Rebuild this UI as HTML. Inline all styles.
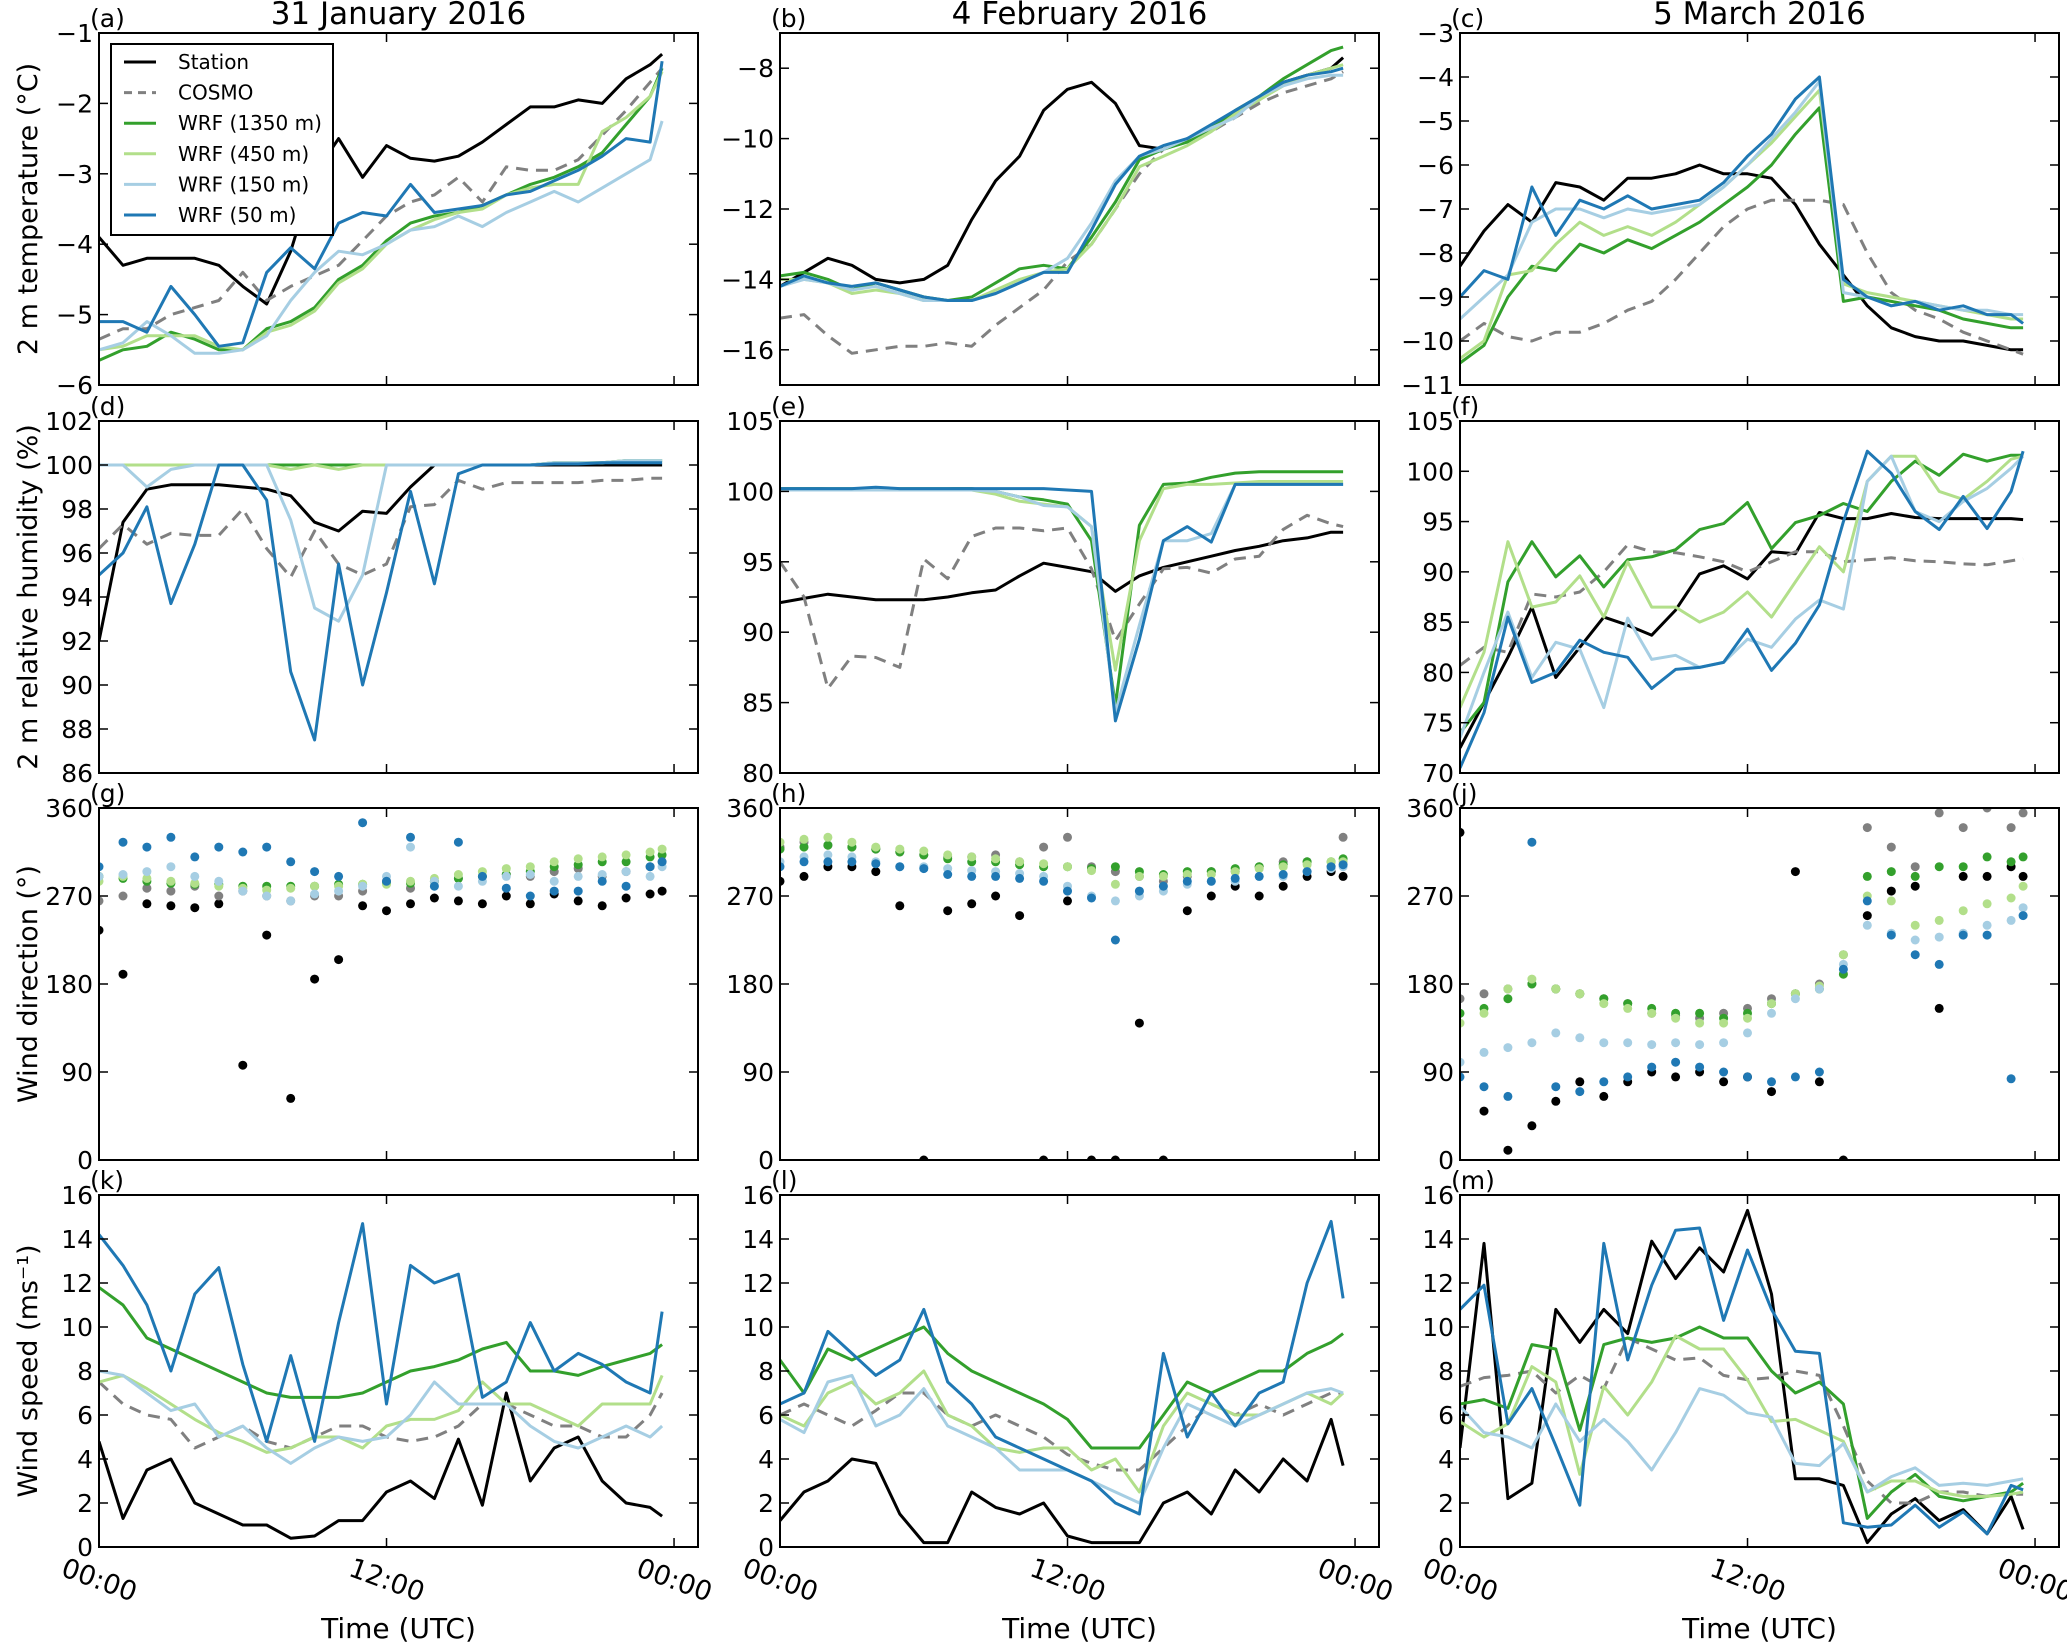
<!DOCTYPE html>
<html><head><meta charset="utf-8"><title>Station vs model comparison</title>
<style>
html,body{margin:0;padding:0;background:#fff;}
svg{display:block;font-family:"DejaVu Sans","Liberation Sans",sans-serif;}
</style></head>
<body>
<svg id="chart" width="2067" height="1642" viewBox="0 0 2067 1642" xmlns="http://www.w3.org/2000/svg"></svg>
<script>
// ---------- data ----------
const HOURS=[0,1,2,3,4,5,6,7,8,9,10,11,12,13,14,15,16,17,18,19,20,21,22,23,23.5];
const seriesNames=["Station","COSMO","WRF (1350 m)","WRF (450 m)","WRF (150 m)","WRF (50 m)"];
const dayTitles=["31 January 2016","4 February 2016","5 March 2016"];
const xTickHours=[0,12,24];
const xTickLabels=["00:00","12:00","00:00"];

// (a) temperature 31 Jan
const tA_station=[-3.9,-4.3,-4.2,-4.2,-4.2,-4.3,-4.6,-4.85,-4.1,-3.0,-2.5,-3.05,-2.6,-2.78,-2.82,-2.75,-2.55,-2.3,-2.05,-2.05,-1.95,-2.0,-1.65,-1.45,-1.3];
const tA_cosmo=[-5.35,-5.2,-5.2,-5.0,-4.9,-4.8,-4.4,-4.8,-4.6,-4.45,-4.3,-3.95,-3.6,-3.4,-3.3,-3.05,-3.4,-2.9,-2.95,-2.95,-2.8,-2.45,-2.1,-1.7,-1.5];
const tA_w1350=[-5.65,-5.5,-5.45,-5.25,-5.35,-5.5,-5.5,-5.2,-5.1,-4.9,-4.5,-4.3,-3.95,-3.7,-3.6,-3.55,-3.45,-3.3,-3.15,-3.05,-2.9,-2.7,-2.3,-1.9,-1.5];
const tA_w450=[-5.5,-5.45,-5.3,-5.3,-5.3,-5.45,-5.5,-5.25,-5.15,-4.95,-4.55,-4.35,-4.0,-3.8,-3.65,-3.55,-3.5,-3.3,-3.2,-3.15,-3.15,-2.4,-2.2,-1.9,-1.55];
const tA_w150=[-5.5,-5.4,-5.1,-5.3,-5.55,-5.55,-5.5,-5.3,-4.8,-4.4,-4.1,-4.15,-4.0,-3.8,-3.75,-3.6,-3.75,-3.55,-3.4,-3.25,-3.4,-3.2,-3.0,-2.8,-2.25];
const tA_w50=[-5.1,-5.1,-5.25,-4.6,-5.0,-5.45,-5.4,-4.4,-4.05,-4.35,-3.7,-3.55,-3.6,-3.15,-3.55,-3.5,-3.45,-3.3,-3.25,-3.1,-2.95,-2.75,-2.5,-2.55,-1.4];
// (b) temperature 4 Feb
const tB_station=[-14.2,-13.8,-13.4,-13.6,-14.0,-14.1,-14.0,-13.6,-12.3,-11.2,-10.5,-9.2,-8.6,-8.4,-9.0,-10.2,-10.3,-10.0,-9.7,-9.3,-8.9,-8.4,-8.2,-8.0,-7.7];
const tB_cosmo=[-15.1,-15.0,-15.6,-16.1,-16.0,-15.9,-15.9,-15.8,-15.9,-15.3,-14.8,-14.3,-13.5,-13.0,-12.0,-11.0,-10.3,-10.0,-9.8,-9.4,-9.0,-8.7,-8.5,-8.3,-8.1];
const tB_w1350=[-13.9,-13.8,-14.0,-14.3,-14.1,-14.3,-14.5,-14.6,-14.5,-14.1,-13.7,-13.6,-13.7,-12.8,-11.8,-10.6,-10.3,-10.1,-9.7,-9.2,-8.8,-8.3,-7.9,-7.5,-7.4];
const tB_w450=[-14.0,-14.0,-14.1,-14.4,-14.3,-14.4,-14.6,-14.6,-14.6,-14.3,-14.0,-13.8,-13.7,-13.0,-12.0,-10.8,-10.5,-10.2,-9.8,-9.3,-8.9,-8.5,-8.2,-8.0,-7.9];
const tB_w150=[-14.2,-14.0,-14.1,-14.3,-14.2,-14.4,-14.6,-14.6,-14.6,-14.4,-14.1,-13.8,-13.4,-12.4,-11.2,-10.5,-10.3,-10.0,-9.7,-9.4,-8.8,-8.5,-8.3,-8.2,-8.2];
const tB_w50=[-14.2,-13.9,-14.1,-14.2,-14.1,-14.3,-14.5,-14.6,-14.6,-14.4,-14.1,-13.8,-13.8,-12.6,-11.3,-10.5,-10.2,-10.0,-9.6,-9.2,-8.8,-8.4,-8.2,-8.1,-8.0];
// (c) temperature 5 Mar
const tC_station=[-8.3,-7.5,-6.9,-7.3,-6.4,-6.5,-6.8,-6.3,-6.3,-6.2,-6.0,-6.2,-6.2,-6.3,-6.9,-7.8,-8.5,-9.2,-9.7,-9.9,-10.0,-10.0,-10.1,-10.2,-10.2];
const tC_cosmo=[-10.0,-9.6,-9.9,-10.0,-9.8,-9.8,-9.6,-9.3,-9.1,-8.6,-8.0,-7.4,-7.0,-6.8,-6.8,-6.8,-6.9,-8.0,-8.9,-9.3,-9.5,-9.8,-10.0,-10.2,-10.3];
const tC_w1350=[-10.5,-10.1,-9.0,-8.3,-8.4,-7.8,-8.0,-7.7,-7.9,-7.6,-7.3,-6.9,-6.5,-6.0,-5.3,-4.7,-9.1,-9.0,-9.1,-9.2,-9.3,-9.5,-9.6,-9.7,-9.7];
const tC_w450=[-10.4,-10.0,-8.5,-8.4,-7.8,-7.3,-7.6,-7.4,-7.6,-7.3,-6.9,-6.5,-6.0,-5.5,-4.9,-4.3,-8.7,-8.9,-9.0,-9.1,-9.2,-9.3,-9.4,-9.5,-9.5];
const tC_w150=[-9.5,-9.0,-8.5,-7.3,-7.0,-7.0,-7.2,-7.0,-7.1,-7.0,-6.9,-6.5,-6.0,-5.4,-4.8,-4.1,-8.9,-9.0,-9.2,-9.1,-9.2,-9.3,-9.3,-9.4,-9.4];
const tC_w50=[-9.0,-8.4,-8.6,-6.5,-7.6,-6.8,-7.0,-6.7,-7.0,-6.9,-6.8,-6.4,-5.8,-5.3,-4.5,-4.0,-8.6,-9.0,-9.2,-9.1,-9.3,-9.2,-9.4,-9.4,-9.6];
// (d) RH 31 Jan
const rD_station=[92,97.4,98.9,99.1,99.1,99.1,99.0,98.9,98.6,97.4,97.0,97.9,97.8,99.0,100,100,100,100,100,100,100,100,100,100,100];
const rD_cosmo=[96.2,97.3,96.4,96.9,96.8,96.8,98.0,96.2,94.9,97.0,95.5,95.0,95.5,98.1,98.2,99.3,98.9,99.2,99.2,99.2,99.2,99.3,99.3,99.4,99.4];
const rD_w1350=[100,100,100,100,100,100,100,100,100,100,100,100,100,100,100,100,100,100,100,100.1,100.1,100.1,100.2,100.2,100.2];
const rD_w450=[100,100,100,100,100,100,100,100,99.8,100,99.8,100,100,100,100,100,100,100,100,100.1,100.1,100.1,100.2,100.2,100.2];
const rD_w150=[100,100,99.0,99.8,100,100,100,100,97.5,93.5,92.9,95.0,100,100,100,100,100,100,100,100.1,100.1,100.1,100.2,100.2,100.2];
const rD_w50=[95,96,98.1,93.7,96.4,100,100,98.4,90.6,87.5,95.5,90.0,94.2,98.8,94.6,99.6,100,100,100,100.05,100.05,100.1,100.1,100.1,100.1];
// (e) RH 4 Feb
const rE_station=[92.1,92.4,92.7,92.5,92.3,92.3,92.3,92.5,92.8,93.0,94.0,94.9,94.6,94.3,92.9,94.0,94.6,95.0,95.4,95.8,96.1,96.5,96.7,97.1,97.1];
const rE_cosmo=[95,92.5,86.0,88.3,88.2,87.5,95.2,93.8,96.8,97.4,97.4,97.2,97.4,94.5,89.4,92.0,94.5,94.6,94.2,95.2,95.4,97.3,98.3,97.7,97.5];
const rE_w1350=[100.2,100.2,100.2,100.2,100.2,100.2,100.2,100.2,100.2,100.0,99.6,99.4,99.1,96.5,84.8,97.6,100.5,100.6,101.0,101.3,101.4,101.4,101.4,101.4,101.4];
const rE_w450=[100.1,100.1,100.2,100.2,100.2,100.2,100.2,100.2,100.1,99.8,99.3,99.1,98.9,97.5,87.3,96.5,100.2,100.5,100.5,100.6,100.7,100.7,100.7,100.7,100.7];
const rE_w150=[100.1,100.1,100.1,100.1,100.1,100.1,100.1,100.1,100.1,100.0,99.6,99.0,98.9,97.5,84.3,90.5,96.5,96.5,97.0,100.5,100.5,100.5,100.5,100.5,100.5];
const rE_w50=[100.2,100.2,100.2,100.2,100.3,100.2,100.2,100.2,100.2,100.2,100.2,100.2,100.1,100.0,83.7,89.5,96.5,97.5,96.4,100.5,100.5,100.5,100.5,100.5,100.5];
// (f) RH 5 Mar
const rF_station=[72.5,77,81.5,86.5,79.5,82.5,85.5,84.7,83.7,86.2,89.8,90.6,89.3,92,91.8,95.9,95.3,95.3,95.8,95.4,95.3,95.3,95.3,95.3,95.2];
const rF_cosmo=[80.7,82.5,82,87.8,87.5,88,90,92.7,92,91.9,91.5,91,90,91,92,92,91,91.2,91.4,91.1,91.0,90.8,90.7,91.1,91.3];
const rF_w1350=[74,77,89,93,89.5,91.6,88.5,91.2,91.5,92.2,94.2,94.8,96.9,92.3,94.9,95.6,96.8,96,99,101,99.6,101.7,101,101.6,101.6];
const rF_w450=[76.5,82,93,86.5,87,89.6,85.5,91,86.5,86.5,85,86,88,85.5,89,92.5,90,99,101.5,101.5,98,97.2,99,101.2,101.5];
const rF_w150=[73.5,80,86,79.5,83,82.3,76.5,85.4,81.3,81.7,80.5,81,83.3,82.5,85.3,87.2,86.3,99,101.5,96,95,97,98.3,100.3,101.5];
const rF_w50=[70.5,76,85.5,79,80,83.2,82,81.5,78.4,80.3,80.5,81,84.3,80.2,82.9,86.7,95,102,99.8,96,94.2,97.5,94.3,98,102];
// (g) wind direction 31 Jan
const dG_station=[235,190,262,260,258,262,97,230,63,185,205,260,255,262,268,265,262,270,262,272,265,260,268,272,275];
const dG_cosmo=[265,270,278,275,280,270,275,270,265,270,270,275,285,278,285,288,290,292,290,295,298,290,295,300,305];
const dG_w1350=[290,288,285,283,282,282,280,280,280,280,282,282,283,283,285,288,290,292,295,300,302,305,305,310,312];
const dG_w450=[285,290,288,285,283,280,278,276,278,280,280,282,282,285,288,292,295,298,300,305,308,310,312,315,318];
const dG_w150=[290,292,295,300,290,285,275,270,265,272,275,280,290,320,285,280,285,290,292,285,290,292,295,290,300];
const dG_w50=[300,325,320,330,310,320,315,320,305,295,290,345,285,330,280,325,290,278,270,275,275,285,280,300,305];
// (h) wind direction 4 Feb
const dH_station=[285,290,300,300,295,260,0,255,262,270,250,0,265,0,0,140,0,255,270,280,270,280,290,295,290];
const dH_cosmo=[320,325,322,320,318,315,312,310,310,312,305,320,330,300,295,290,285,290,295,295,300,305,305,300,330];
const dH_w1350=[318,320,322,320,318,315,312,308,305,305,302,300,300,298,300,295,292,295,295,298,300,302,305,305,308];
const dH_w450=[325,328,330,325,320,318,316,312,310,308,305,303,300,296,282,290,290,292,292,295,298,300,302,305,305];
const dH_w150=[305,310,312,310,305,300,300,298,296,295,293,290,280,270,265,270,275,282,285,285,290,290,295,298,300];
const dH_w50=[300,305,305,305,303,300,298,292,290,290,288,285,275,268,225,275,280,285,285,288,290,292,295,300,302];
// (j) wind direction 5 Mar
const dJ_station=[335,50,10,35,60,80,65,80,90,85,90,80,85,70,295,80,0,250,275,280,155,290,290,300,290];
const dJ_cosmo=[165,170,175,180,175,170,165,160,150,148,145,150,155,165,170,180,210,340,320,300,355,340,360,340,355];
const dJ_w1350=[150,155,165,180,175,170,165,160,155,150,150,145,150,160,170,175,190,290,295,290,300,300,310,305,310];
const dJ_w450=[140,150,175,185,175,170,160,155,150,145,140,140,145,160,170,178,210,270,265,240,245,255,262,268,280];
const dJ_w150=[100,110,115,120,130,125,120,120,118,120,118,120,130,150,165,175,200,240,232,225,228,232,240,245,258];
const dJ_w50=[85,75,65,325,75,70,80,85,95,100,95,90,85,80,85,90,195,265,230,210,200,230,230,83,250];
// (k) wind speed 31 Jan
const sK_station=[4.8,1.3,3.5,4.0,2.0,1.5,1.0,1.0,0.4,0.5,1.2,1.2,2.5,3.0,2.2,4.9,1.9,7.0,3.0,4.5,5.0,3.0,2.0,1.8,1.4];
const sK_cosmo=[7.5,6.5,6.0,5.8,4.5,5.0,5.5,4.8,4.5,5.0,5.5,5.5,5.0,4.8,5.0,5.5,6.5,6.5,6.0,5.5,5.5,5.0,5.0,6.0,7.0];
const sK_w1350=[11.8,11.0,9.5,9.0,8.5,8.0,7.5,7.0,6.8,6.8,6.8,7.0,7.5,8.0,8.2,8.5,9.0,9.3,8.0,8.0,7.8,8.2,8.5,8.8,9.2];
const sK_w450=[7.5,7.8,7.2,6.5,5.8,5.2,4.8,4.3,4.5,5.0,5.0,4.5,5.5,5.8,5.8,6.2,7.5,6.5,6.5,6.0,5.5,6.5,6.5,6.5,7.8];
const sK_w150=[8.0,7.8,7.0,6.2,6.5,5.0,5.5,4.5,3.8,4.5,5.0,4.8,5.0,6.0,7.5,6.5,6.5,6.5,5.5,4.8,4.5,5.0,5.5,5.0,5.5];
const sK_w50=[14.2,12.8,11.0,8.0,11.5,12.7,8.3,4.8,8.7,4.8,10.2,14.7,6.5,12.8,12.0,12.4,6.8,7.5,10.2,8.0,8.8,8.3,7.5,7.0,10.7];
// (l) wind speed 4 Feb
const sL_station=[1.2,2.5,3.0,4.0,3.8,1.5,0.2,0.2,2.5,1.8,1.5,2.0,0.5,0.2,0.2,0.2,2.0,2.5,1.5,3.5,2.5,4.0,3.0,5.8,3.7];
const sL_cosmo=[6.0,6.5,6.0,5.5,6.2,7.0,7.0,6.0,5.5,6.0,5.5,5.0,4.2,3.8,3.5,3.5,4.5,5.5,6.5,6.0,6.5,6.0,6.5,7.0,7.0];
const sL_w1350=[8.5,7.0,9.0,8.5,9.0,9.5,10.0,8.8,8.0,7.5,7.0,6.5,5.8,4.5,4.5,4.5,6.0,7.5,7.0,7.5,8.0,8.0,8.8,9.3,9.7];
const sL_w450=[6.0,5.5,7.0,7.5,6.5,7.0,8.0,6.0,5.5,4.5,4.3,4.5,4.5,3.5,4.0,2.5,5.5,7.0,6.5,6.0,6.0,6.5,7.0,6.5,7.0];
const sL_w150=[5.8,5.2,7.5,7.8,5.5,6.0,7.2,5.5,5.0,4.5,3.5,3.5,3.5,3.0,2.5,2.0,4.5,6.5,6.0,5.5,6.0,6.5,7.0,7.2,7.0];
const sL_w50=[6.5,7.0,9.8,8.8,7.8,8.5,10.8,7.5,6.5,5.0,4.5,4.0,3.5,3.0,2.0,1.5,8.8,5.0,7.0,5.5,7.0,7.5,12.0,14.8,11.3];
// (m) wind speed 5 Mar
const sM_station=[4.5,13.8,2.2,2.9,10.8,9.3,10.8,9.7,13.9,12.2,13.6,12.5,15.3,11.5,3.1,3.1,2.8,0.2,1.5,2.2,1.2,1.7,0.6,2.3,0.8];
const sM_cosmo=[7.3,7.7,7.8,8.0,7.0,7.8,7.2,9.5,9.0,8.5,8.6,7.8,7.6,7.7,8.0,7.8,5.5,3.0,2.0,2.0,2.5,2.5,2.3,2.4,2.4];
const sM_w1350=[6.5,6.7,6.3,9.2,9.0,5.3,9.2,9.5,9.3,9.5,10.0,9.5,9.5,8.0,7.0,7.5,6.5,1.3,2.5,3.3,2.3,2.1,2.3,2.5,2.9];
const sM_w450=[5.7,5.0,5.6,8.2,7.5,3.3,7.3,6.0,7.5,9.6,9.0,9.0,7.6,5.7,5.8,5.3,4.8,2.5,3.0,3.0,2.5,2.3,2.3,2.4,2.5];
const sM_w150=[6.4,5.2,5.0,4.5,6.5,4.8,5.8,4.8,3.5,5.2,7.2,6.9,6.1,5.9,3.8,3.7,4.7,2.5,3.2,3.6,2.8,2.9,2.8,3.0,3.1];
const sM_w50=[10.8,11.9,5.6,7.2,4.6,1.9,13.8,8.5,11.9,14.4,14.5,10.3,13.5,10.8,8.9,8.8,1.1,0.9,1.0,1.9,0.9,1.6,0.6,2.8,2.6];

// y tick values
const ticksA=[-6,-5,-4,-3,-2,-1], ticksB=[-16,-14,-12,-10,-8], ticksC=[-11,-10,-9,-8,-7,-6,-5,-4,-3];
const ticksD=[86,88,90,92,94,96,98,100,102], ticksEF=[70,75,80,85,90,95,100,105], ticksE=[80,85,90,95,100,105];
const ticksDir=[0,90,180,270,360], ticksSpd=[0,2,4,6,8,10,12,14,16];

// ---------- layout (not data) ----------
const COLX=[99,780,1460], PW=599, ROWY=[33,421,808,1195], PH=352, XMAX=25;
const COLORS=["#000000","#808080","#33a02c","#b2df8a","#a6cee3","#1f78b4"];
const SLUGS=["station","cosmo","wrf-1350m","wrf-450m","wrf-150m","wrf-50m"];

const panels=[
 {id:"a",col:0,row:0,ymin:-6,ymax:-1,ticks:ticksA,type:"line",data:[tA_station,tA_cosmo,tA_w1350,tA_w450,tA_w150,tA_w50]},
 {id:"b",col:1,row:0,ymin:-17,ymax:-7,ticks:ticksB,type:"line",data:[tB_station,tB_cosmo,tB_w1350,tB_w450,tB_w150,tB_w50]},
 {id:"c",col:2,row:0,ymin:-11,ymax:-3,ticks:ticksC,type:"line",data:[tC_station,tC_cosmo,tC_w1350,tC_w450,tC_w150,tC_w50]},
 {id:"d",col:0,row:1,ymin:86,ymax:102,ticks:ticksD,type:"line",data:[rD_station,rD_cosmo,rD_w1350,rD_w450,rD_w150,rD_w50]},
 {id:"e",col:1,row:1,ymin:80,ymax:105,ticks:ticksE,type:"line",data:[rE_station,rE_cosmo,rE_w1350,rE_w450,rE_w150,rE_w50]},
 {id:"f",col:2,row:1,ymin:70,ymax:105,ticks:ticksEF,type:"line",data:[rF_station,rF_cosmo,rF_w1350,rF_w450,rF_w150,rF_w50]},
 {id:"g",col:0,row:2,ymin:0,ymax:360,ticks:ticksDir,type:"scatter",data:[dG_station,dG_cosmo,dG_w1350,dG_w450,dG_w150,dG_w50]},
 {id:"h",col:1,row:2,ymin:0,ymax:360,ticks:ticksDir,type:"scatter",data:[dH_station,dH_cosmo,dH_w1350,dH_w450,dH_w150,dH_w50]},
 {id:"j",col:2,row:2,ymin:0,ymax:360,ticks:ticksDir,type:"scatter",data:[dJ_station,dJ_cosmo,dJ_w1350,dJ_w450,dJ_w150,dJ_w50]},
 {id:"k",col:0,row:3,ymin:0,ymax:16,ticks:ticksSpd,type:"line",data:[sK_station,sK_cosmo,sK_w1350,sK_w450,sK_w150,sK_w50]},
 {id:"l",col:1,row:3,ymin:0,ymax:16,ticks:ticksSpd,type:"line",data:[sL_station,sL_cosmo,sL_w1350,sL_w450,sL_w150,sL_w50]},
 {id:"m",col:2,row:3,ymin:0,ymax:16,ticks:ticksSpd,type:"line",data:[sM_station,sM_cosmo,sM_w1350,sM_w450,sM_w150,sM_w50]}
];
const yTitles=["2 m  temperature (°C)","2 m  relative humidity (%)","Wind direction (°)","Wind speed (ms⁻¹)"];

const NS="http://www.w3.org/2000/svg";
const svg=document.getElementById("chart");
function mk(tag,attrs,parent){const e=document.createElementNS(NS,tag);for(const k in attrs)e.setAttribute(k,attrs[k]);(parent||svg).appendChild(e);return e;}
function fmt(v){return v<0?"\u2212"+Math.abs(v):String(v);}

panels.forEach(p=>{
  const x0=COLX[p.col], y0=ROWY[p.row];
  const xs=h=>x0+h/XMAX*PW;
  const ys=v=>y0+PH-(v-p.ymin)/(p.ymax-p.ymin)*PH;
  const g=mk("g",{});
  
  
  const defs=mk("clipPath",{id:"clip-"+p.id},g);
  mk("rect",{x:x0,y:y0,width:PW,height:PH},defs);
  const marks=mk("g",{"clip-path":"url(#clip-"+p.id+")"},g);
  
  
  p.data.forEach((arr,si)=>{
    if(p.type==="line"){
      const d=arr.map((v,i)=>(i?"L":"M")+xs(HOURS[i]).toFixed(1)+","+ys(v).toFixed(1)).join(" ");
      const path=mk("path",{d:d,fill:"none",stroke:COLORS[si],"stroke-width":3,"stroke-linejoin":"round"},marks);
      if(si===1)path.setAttribute("stroke-dasharray","12,8");
      
      
    } else {
      const grp=mk("g",{fill:COLORS[si]},marks);
      
      
      arr.forEach((v,i)=>{
        const c=mk("circle",{cx:xs(HOURS[i]).toFixed(1),cy:ys(v).toFixed(1),r:4.5},grp);
        
        
      });
    }
  });
  // frame
  const fr=mk("rect",{x:x0,y:y0,width:PW,height:PH,fill:"none",stroke:"#000","stroke-width":2},g);
  
  
  // y ticks
  p.ticks.forEach(t=>{
    const y=ys(t);
    mk("line",{x1:x0,x2:x0+9,y1:y,y2:y,stroke:"#000","stroke-width":1.5},g);
    mk("line",{x1:x0+PW,x2:x0+PW-9,y1:y,y2:y,stroke:"#000","stroke-width":1.5},g);
    const tl=mk("text",{x:x0-6,y:y+9,"text-anchor":"end","font-size":25,fill:"#000"},g);
    tl.textContent=fmt(t);
    
    
  });
  // x ticks
  xTickHours.forEach((h,i)=>{
    const x=xs(h);
    mk("line",{x1:x,x2:x,y1:y0+PH,y2:y0+PH-9,stroke:"#000","stroke-width":1.5},g);
    mk("line",{x1:x,x2:x,y1:y0,y2:y0+9,stroke:"#000","stroke-width":1.5},g);
    if(p.row===3){
      const tl=mk("text",{x:x,y:y0+PH+42,"text-anchor":"middle","font-size":27,fill:"#000",transform:"rotate(20 "+x+" "+(y0+PH+34)+")"},g);
      tl.textContent=xTickLabels[i];
      
      
    }
  });
  // panel letter
  const pl=mk("text",{x:x0-9,y:y0-6,"font-size":25,fill:"#000"},g);
  pl.textContent="("+p.id+")";
  
  
  if(p.row===0){
    const tt=mk("text",{x:x0+PW/2,y:y0-9,"text-anchor":"middle","font-size":31,fill:"#000"},g);
    tt.textContent=dayTitles[p.col];
    
    
  }
  if(p.row===3){
    const xt=mk("text",{x:x0+PW/2,y:1638,"text-anchor":"middle","font-size":28,fill:"#000"},g);
    xt.textContent="Time (UTC)";
    
    
  }
  if(p.col===0){
    const cy=y0+PH/2;
    const yt=mk("text",{x:37,y:cy,"text-anchor":"middle","font-size":27,fill:"#000",transform:"rotate(-90 37 "+cy+")"},g);
    yt.textContent=yTitles[p.row];
    
    
  }
});

// legend in panel (a)
const lg=mk("g",{});


mk("rect",{x:111,y:44,width:222,height:191,fill:"#fff",stroke:"#000","stroke-width":2},lg);
seriesNames.forEach((n,i)=>{
  const y=62+i*30.6;
  const ln=mk("line",{x1:124,x2:156,y1:y,y2:y,stroke:COLORS[i],"stroke-width":3},lg);
  if(i===1)ln.setAttribute("stroke-dasharray","8,6");
  
  
  const t=mk("text",{x:178,y:y+7,"font-size":20,fill:"#000"},lg);
  t.textContent=n;
  
  
});
</script>
</body></html>
